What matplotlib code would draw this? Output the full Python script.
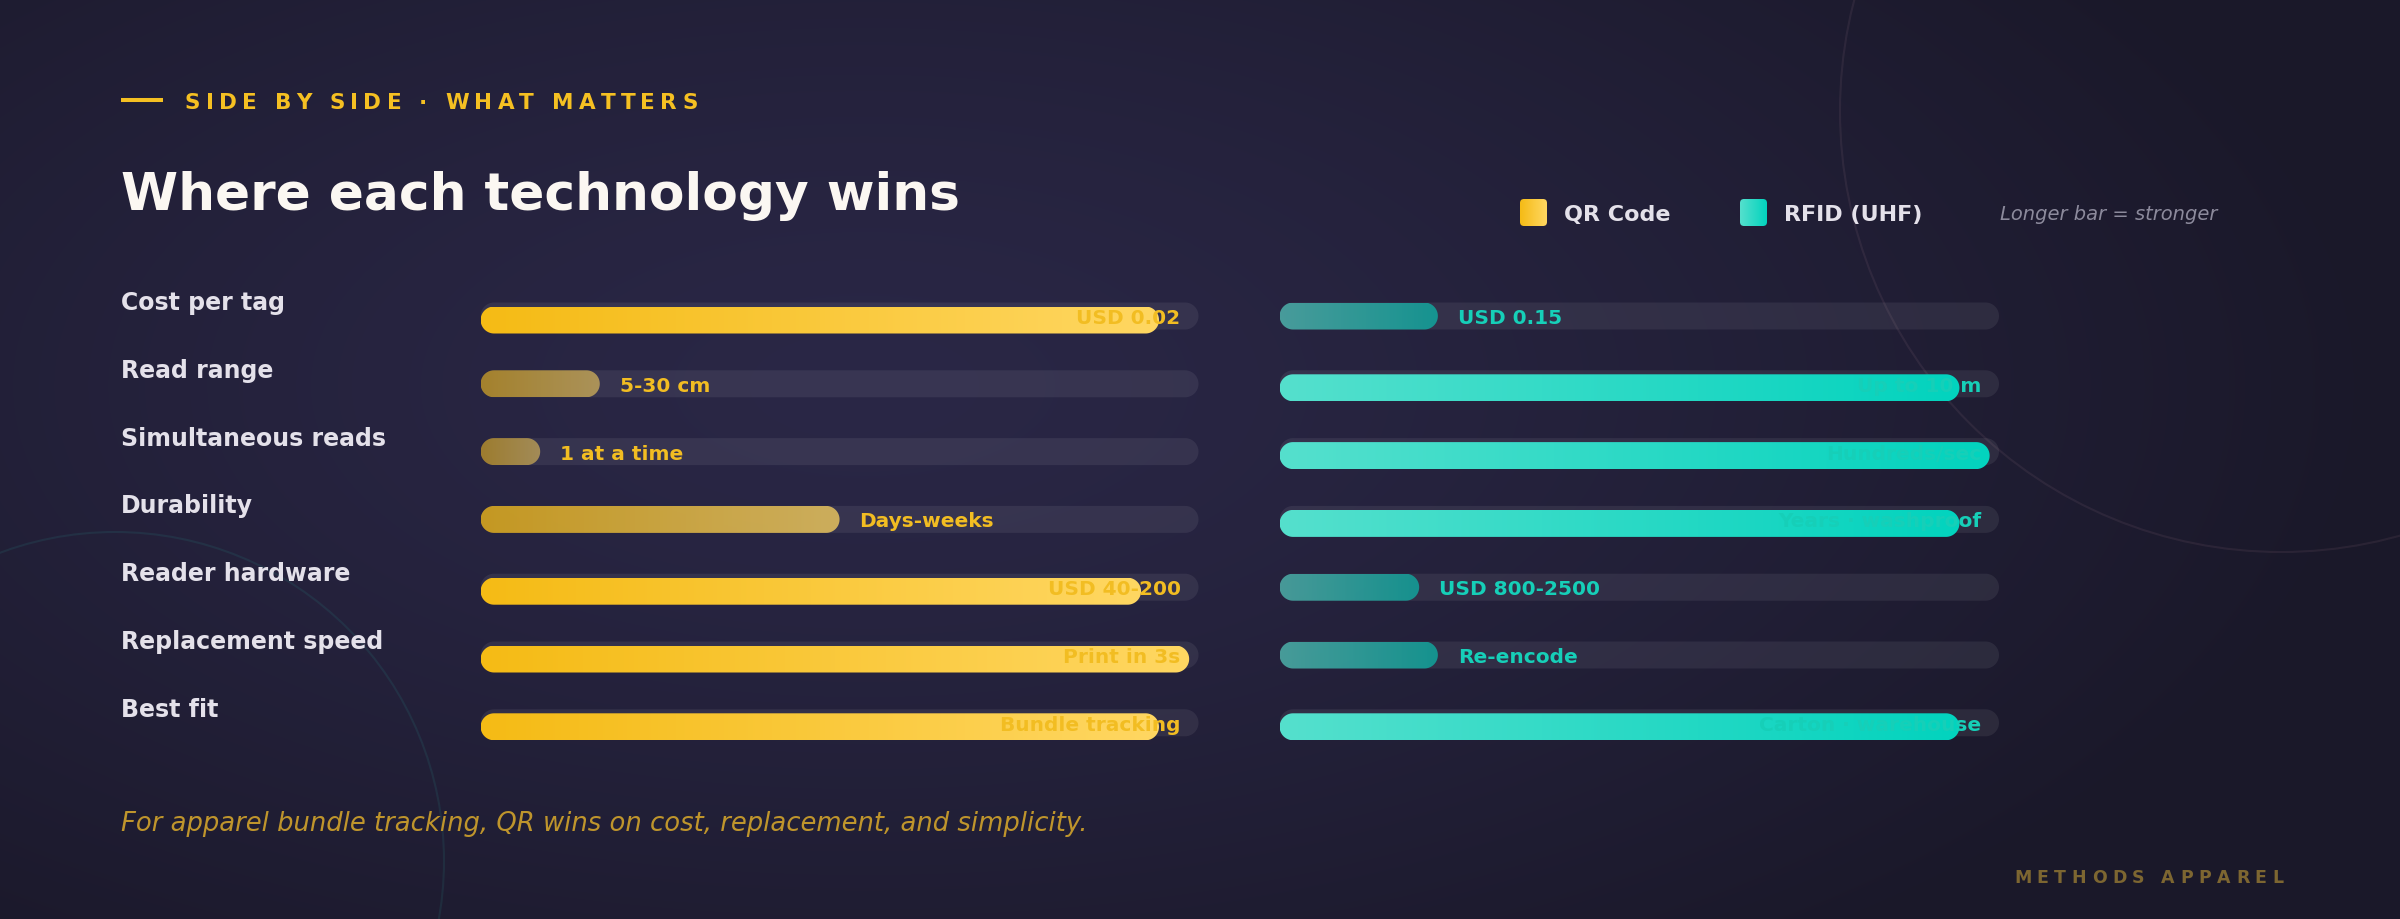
import numpy as np
import matplotlib
matplotlib.use('Agg')
from matplotlib import pyplot as plt
from matplotlib.patches import FancyBboxPatch, Circle, Polygon
from matplotlib.colors import to_rgb

# data
criteria = ['Cost per tag', 'Read range', 'Simultaneous reads', 'Durability',
            'Reader hardware', 'Replacement speed', 'Best fit']
qr_scores = [0.945, 0.166, 0.083, 0.50, 0.92, 0.987, 0.945]
rfid_scores = [0.22, 0.945, 0.987, 0.945, 0.194, 0.22, 0.945]
qr_labels = ['USD 0.02', '5-30 cm', '1 at a time', 'Days-weeks',
             'USD 40-200', 'Print in 3s', 'Bundle tracking']
rfid_labels = ['USD 0.15', 'Up to 10 m', 'Hundreds/sec', 'Years · washproof',
               'USD 800-2500', 'Re-encode', 'Carton · warehouse']
series_names = ['QR Code', 'RFID (UHF)']

W, H = 2400, 920
BG_CENTER = '#2a2746'
BG_EDGE = '#1a1829'
GOLD = '#f5c022'
QR_GRAD = ('#f5bb15', '#ffd762')
RFID_GRAD = ('#55e0cd', '#02d3be')
QR_TEXT = '#f2bd22'
RFID_TEXT = '#16cfb8'
TRACK = (1, 1, 1, 0.07)
LABEL_COLOR = '#e4e1ea'

track_h = 27
row_gap = 67.8
first_row = 317
inside_cut = 0.9


def gradient(c0, c1, alpha=1.0, n=256):
    a = np.array(to_rgb(c0))
    b = np.array(to_rgb(c1))
    t = np.linspace(0, 1, n)[:, None]
    rgb = a + (b - a) * t
    rgba = np.concatenate([rgb, np.full((n, 1), alpha)], axis=1)
    return rgba[None, :, :]


def pill(x0, x1, yc, h, ratio, **kw):
    # ratio = size of one y unit over one x unit, in pixels
    ry = h / 2
    rx = ry * ratio
    t = np.linspace(-np.pi / 2, np.pi / 2, 40)
    right = np.column_stack([x1 - rx + rx * np.cos(t), yc + ry * np.sin(t)])
    left = np.column_stack([x0 + rx - rx * np.cos(t), yc - ry * np.sin(t)])
    return Polygon(np.vstack([right, left]), closed=True, **kw)


def spaced_text(ax, x, y, s, spacing, **kw):
    r = ax.figure.canvas.get_renderer()
    t = ax.text(0, 0, 'xx', **kw)
    w0 = t.get_window_extent(r).width
    t.remove()
    for ch in s:
        if ch != ' ':
            ax.text(x, y, ch, va='baseline', **kw)
        t = ax.text(0, 0, 'x' + ch + 'x', **kw)
        w = t.get_window_extent(r).width - w0
        t.remove()
        x += w + spacing


def draw_panel(fig, x0, x1, scores, labels, grad, text_color):
    n = len(scores)
    top = first_row - row_gap / 2
    bottom = first_row + row_gap * (n - 1) + row_gap / 2
    ax = fig.add_axes([x0 / W, 1 - bottom / H, (x1 - x0) / W, (bottom - top) / H])
    ax.axis('off')
    px_x = x1 - x0
    ratio = row_gap / px_x
    h = track_h / row_gap
    for i, (v, lab) in enumerate(zip(scores, labels)):
        ax.add_patch(pill(0, 1, i, h, ratio, fc=TRACK, ec='none', zorder=1))
        inside = v >= inside_cut
        off = 4 / row_gap if inside else 0
        alpha = 1.0 if inside else 0.5 + 0.5 * v
        fill = pill(0, v, i + off, h, ratio, fc='none', ec='none')
        ax.add_patch(fill)
        im = ax.imshow(gradient(grad[0], grad[1], alpha),
                       extent=[0, v, i + h / 2 + off, i - h / 2 + off],
                       aspect='auto', interpolation='bilinear', zorder=2)
        im.set_clip_path(fill)
        yb = i + 7 / row_gap
        if inside:
            ax.text(1 - 18 / px_x, yb, lab, ha='right', va='baseline', color=text_color,
                    fontsize=14.5, fontweight='bold', zorder=3)
        else:
            ax.text(v + 20 / px_x, yb, lab, ha='left', va='baseline', color=text_color,
                    fontsize=14.5, fontweight='bold', zorder=3)
    ax.set_xlim(0, 1)
    ax.set_ylim(n - 0.5, -0.5)
    return ax


def main():
    fig = plt.figure(figsize=(W / 100, H / 100), dpi=100)
    bg = fig.add_axes([0, 0, 1, 1])
    bg.axis('off')

    # background radial glow
    yy, xx = np.mgrid[0:H, 0:W]
    d = np.sqrt(((xx - 0.36 * W) / (0.85 * W)) ** 2 + ((yy - 0.42 * H) / (1.05 * H)) ** 2)
    d = np.clip(d / 0.75, 0, 1) ** 1.3
    c0 = np.array(to_rgb(BG_CENTER))
    c1 = np.array(to_rgb(BG_EDGE))
    img = c0 + (c1 - c0) * d[..., None]
    bg.imshow(img, extent=[0, W, H, 0], aspect='auto', zorder=0)

    bg.add_patch(Circle((2281, 112), 441, fill=False, ec=(1, 0.75, 0.8, 0.07), lw=1.5, zorder=1))
    bg.add_patch(Circle((115, 862), 329, fill=False, ec=(0.18, 0.83, 0.75, 0.09), lw=1.5, zorder=1))

    # eyebrow + title
    bg.plot([121, 163], [101, 101], color=GOLD, lw=2.9, solid_capstyle='butt')
    spaced_text(bg, 185, 109, 'SIDE BY SIDE · WHAT MATTERS', 5.2,
                color=GOLD, fontsize=15.5, fontweight='bold')
    bg.text(121, 210, 'Where each technology wins', color='#fbf7f2', fontsize=37.3,
            fontweight='bold', va='baseline')

    # legend
    for x, grad, name in [(1520, QR_GRAD, series_names[0]), (1740, RFID_GRAD, series_names[1])]:
        sq = FancyBboxPatch((x, 200), 27, 27, boxstyle='round,pad=0,rounding_size=4',
                            fc='none', ec='none')
        bg.add_patch(sq)
        im = bg.imshow(gradient(grad[0], grad[1]), extent=[x, x + 27, 227, 200],
                       aspect='auto', zorder=2)
        im.set_clip_path(sq)
        bg.text(x + 44, 221, name, color=LABEL_COLOR, fontsize=16, fontweight='bold',
                va='baseline')
    bg.text(2000, 220, 'Longer bar = stronger', color='#8c8a9c', fontsize=14,
            style='italic', va='baseline')

    # row labels
    for i, name in enumerate(criteria):
        bg.text(121, first_row + i * row_gap - 7, name, color=LABEL_COLOR, fontsize=17,
                fontweight='bold', va='baseline')

    # footer
    bg.text(121, 831, 'For apparel bundle tracking, QR wins on cost, replacement, and simplicity.',
            color='#bf952c', fontsize=18.6, style='italic', va='baseline')
    spaced_text(bg, 2014, 883, 'METHODS APPAREL', 5.5, color='#7d6631',
                fontsize=12.5, fontweight='bold')

    bg.set_xlim(0, W)
    bg.set_ylim(H, 0)

    draw_panel(fig, 480.6, 1198.5, qr_scores, qr_labels, QR_GRAD, QR_TEXT)
    draw_panel(fig, 1279.6, 1999.0, rfid_scores, rfid_labels, RFID_GRAD, RFID_TEXT)

    fig.savefig('out.png', dpi=100, facecolor=BG_EDGE)


if __name__ == '__main__':
    main()
